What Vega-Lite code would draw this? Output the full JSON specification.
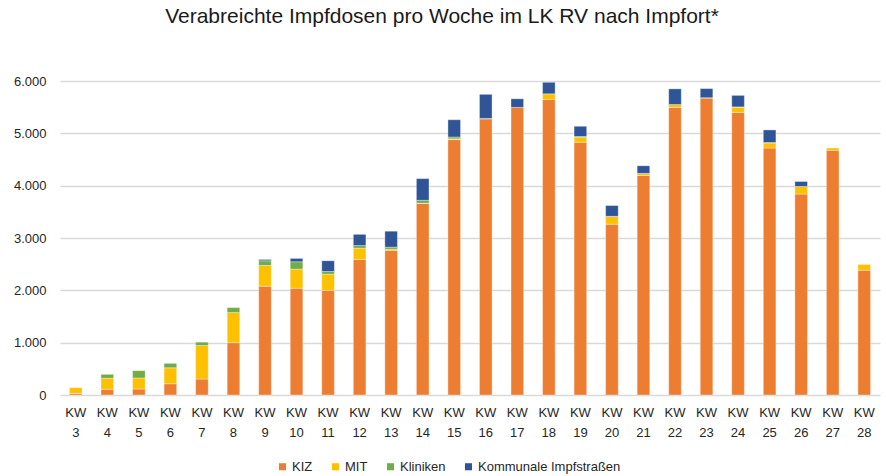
{
  "$schema": "https://vega.github.io/schema/vega-lite/v6.json",
  "autosize": "none",
  "width": 820,
  "height": 314,
  "padding": {"left": 60, "top": 81, "right": 6, "bottom": 81},
  "background": "white",
  "title": {
    "text": "Verabreichte Impfdosen pro Woche im LK RV nach Impfort*",
    "font": "Liberation Sans",
    "fontSize": 21,
    "fontWeight": "normal",
    "color": "#1a1a1a",
    "anchor": "middle",
    "dx": -28,
    "offset": 48
  },
  "data": {
    "values": [
      {"kw": "KW 3", "typ": "KIZ", "o": 1, "n": 30},
      {"kw": "KW 3", "typ": "MIT", "o": 2, "n": 110},
      {"kw": "KW 4", "typ": "KIZ", "o": 1, "n": 110},
      {"kw": "KW 4", "typ": "MIT", "o": 2, "n": 210},
      {"kw": "KW 4", "typ": "Kliniken", "o": 3, "n": 75},
      {"kw": "KW 5", "typ": "KIZ", "o": 1, "n": 115},
      {"kw": "KW 5", "typ": "MIT", "o": 2, "n": 210},
      {"kw": "KW 5", "typ": "Kliniken", "o": 3, "n": 140},
      {"kw": "KW 6", "typ": "KIZ", "o": 1, "n": 215},
      {"kw": "KW 6", "typ": "MIT", "o": 2, "n": 305},
      {"kw": "KW 6", "typ": "Kliniken", "o": 3, "n": 85},
      {"kw": "KW 7", "typ": "KIZ", "o": 1, "n": 305},
      {"kw": "KW 7", "typ": "MIT", "o": 2, "n": 640},
      {"kw": "KW 7", "typ": "Kliniken", "o": 3, "n": 65},
      {"kw": "KW 8", "typ": "KIZ", "o": 1, "n": 1000},
      {"kw": "KW 8", "typ": "MIT", "o": 2, "n": 575},
      {"kw": "KW 8", "typ": "Kliniken", "o": 3, "n": 95},
      {"kw": "KW 9", "typ": "KIZ", "o": 1, "n": 2080},
      {"kw": "KW 9", "typ": "MIT", "o": 2, "n": 395},
      {"kw": "KW 9", "typ": "Kliniken", "o": 3, "n": 90},
      {"kw": "KW 9", "typ": "Kommunale Impfstraßen", "o": 4, "n": 25},
      {"kw": "KW 10", "typ": "KIZ", "o": 1, "n": 2040},
      {"kw": "KW 10", "typ": "MIT", "o": 2, "n": 365},
      {"kw": "KW 10", "typ": "Kliniken", "o": 3, "n": 140},
      {"kw": "KW 10", "typ": "Kommunale Impfstraßen", "o": 4, "n": 65},
      {"kw": "KW 11", "typ": "KIZ", "o": 1, "n": 2000},
      {"kw": "KW 11", "typ": "MIT", "o": 2, "n": 310},
      {"kw": "KW 11", "typ": "Kliniken", "o": 3, "n": 50},
      {"kw": "KW 11", "typ": "Kommunale Impfstraßen", "o": 4, "n": 205},
      {"kw": "KW 12", "typ": "KIZ", "o": 1, "n": 2590},
      {"kw": "KW 12", "typ": "MIT", "o": 2, "n": 215},
      {"kw": "KW 12", "typ": "Kliniken", "o": 3, "n": 50},
      {"kw": "KW 12", "typ": "Kommunale Impfstraßen", "o": 4, "n": 215},
      {"kw": "KW 13", "typ": "KIZ", "o": 1, "n": 2765},
      {"kw": "KW 13", "typ": "MIT", "o": 2, "n": 20},
      {"kw": "KW 13", "typ": "Kliniken", "o": 3, "n": 40},
      {"kw": "KW 13", "typ": "Kommunale Impfstraßen", "o": 4, "n": 305},
      {"kw": "KW 14", "typ": "KIZ", "o": 1, "n": 3660},
      {"kw": "KW 14", "typ": "MIT", "o": 2, "n": 5},
      {"kw": "KW 14", "typ": "Kliniken", "o": 3, "n": 55},
      {"kw": "KW 14", "typ": "Kommunale Impfstraßen", "o": 4, "n": 415},
      {"kw": "KW 15", "typ": "KIZ", "o": 1, "n": 4880},
      {"kw": "KW 15", "typ": "MIT", "o": 2, "n": 15},
      {"kw": "KW 15", "typ": "Kliniken", "o": 3, "n": 35},
      {"kw": "KW 15", "typ": "Kommunale Impfstraßen", "o": 4, "n": 330},
      {"kw": "KW 16", "typ": "KIZ", "o": 1, "n": 5275},
      {"kw": "KW 16", "typ": "Kliniken", "o": 3, "n": 10},
      {"kw": "KW 16", "typ": "Kommunale Impfstraßen", "o": 4, "n": 460},
      {"kw": "KW 17", "typ": "KIZ", "o": 1, "n": 5495},
      {"kw": "KW 17", "typ": "Kommunale Impfstraßen", "o": 4, "n": 165},
      {"kw": "KW 18", "typ": "KIZ", "o": 1, "n": 5645},
      {"kw": "KW 18", "typ": "MIT", "o": 2, "n": 110},
      {"kw": "KW 18", "typ": "Kommunale Impfstraßen", "o": 4, "n": 220},
      {"kw": "KW 19", "typ": "KIZ", "o": 1, "n": 4830},
      {"kw": "KW 19", "typ": "MIT", "o": 2, "n": 95},
      {"kw": "KW 19", "typ": "Kliniken", "o": 3, "n": 15},
      {"kw": "KW 19", "typ": "Kommunale Impfstraßen", "o": 4, "n": 195},
      {"kw": "KW 20", "typ": "KIZ", "o": 1, "n": 3265},
      {"kw": "KW 20", "typ": "MIT", "o": 2, "n": 145},
      {"kw": "KW 20", "typ": "Kliniken", "o": 3, "n": 5},
      {"kw": "KW 20", "typ": "Kommunale Impfstraßen", "o": 4, "n": 205},
      {"kw": "KW 21", "typ": "KIZ", "o": 1, "n": 4195},
      {"kw": "KW 21", "typ": "MIT", "o": 2, "n": 40},
      {"kw": "KW 21", "typ": "Kommunale Impfstraßen", "o": 4, "n": 145},
      {"kw": "KW 22", "typ": "KIZ", "o": 1, "n": 5495},
      {"kw": "KW 22", "typ": "MIT", "o": 2, "n": 55},
      {"kw": "KW 22", "typ": "Kommunale Impfstraßen", "o": 4, "n": 300},
      {"kw": "KW 23", "typ": "KIZ", "o": 1, "n": 5675},
      {"kw": "KW 23", "typ": "MIT", "o": 2, "n": 5},
      {"kw": "KW 23", "typ": "Kommunale Impfstraßen", "o": 4, "n": 175},
      {"kw": "KW 24", "typ": "KIZ", "o": 1, "n": 5400},
      {"kw": "KW 24", "typ": "MIT", "o": 2, "n": 100},
      {"kw": "KW 24", "typ": "Kliniken", "o": 3, "n": 5},
      {"kw": "KW 24", "typ": "Kommunale Impfstraßen", "o": 4, "n": 220},
      {"kw": "KW 25", "typ": "KIZ", "o": 1, "n": 4720},
      {"kw": "KW 25", "typ": "MIT", "o": 2, "n": 95},
      {"kw": "KW 25", "typ": "Kliniken", "o": 3, "n": 10},
      {"kw": "KW 25", "typ": "Kommunale Impfstraßen", "o": 4, "n": 240},
      {"kw": "KW 26", "typ": "KIZ", "o": 1, "n": 3840},
      {"kw": "KW 26", "typ": "MIT", "o": 2, "n": 145},
      {"kw": "KW 26", "typ": "Kommunale Impfstraßen", "o": 4, "n": 95},
      {"kw": "KW 27", "typ": "KIZ", "o": 1, "n": 4675},
      {"kw": "KW 27", "typ": "MIT", "o": 2, "n": 45},
      {"kw": "KW 28", "typ": "KIZ", "o": 1, "n": 2385},
      {"kw": "KW 28", "typ": "MIT", "o": 2, "n": 110}
    ]
  },
  "mark": {"type": "bar", "stroke": "white", "strokeWidth": 0.6, "strokeOpacity": 0.6},
  "encoding": {
    "x": {
      "field": "kw",
      "type": "nominal",
      "sort": null,
      "scale": {"paddingInner": 0.6, "paddingOuter": 0.3},
      "axis": {
        "title": null,
        "labelAngle": 0,
        "labelExpr": "split(datum.label, ' ')",
        "labelFont": "Liberation Sans",
        "labelFontSize": 13,
        "labelColor": "#262626",
        "labelLineHeight": 20,
        "labelPadding": 11,
        "domain": false,
        "ticks": false,
        "grid": false
      }
    },
    "y": {
      "field": "n",
      "type": "quantitative",
      "aggregate": "sum",
      "stack": "zero",
      "scale": {"domain": [0, 6000], "nice": false},
      "axis": {
        "title": null,
        "values": [0, 1000, 2000, 3000, 4000, 5000, 6000],
        "labelExpr": "replace(format(datum.value, ','), ',', '.')",
        "labelFont": "Liberation Sans",
        "labelFontSize": 13,
        "labelColor": "#262626",
        "labelPadding": 14,
        "domain": false,
        "ticks": false,
        "gridColor": "#d9d9d9",
        "gridWidth": 1.5
      }
    },
    "color": {
      "field": "typ",
      "type": "nominal",
      "scale": {
        "domain": ["KIZ", "MIT", "Kliniken", "Kommunale Impfstraßen"],
        "range": ["#ED7D31", "#FFC000", "#70AD47", "#2F5597"]
      },
      "legend": {
        "title": null,
        "orient": "none",
        "legendX": 216,
        "legendY": 379,
        "direction": "horizontal",
        "symbolType": "square",
        "symbolSize": 50,
        "symbolStrokeWidth": 0,
        "labelFont": "Liberation Sans",
        "labelFontSize": 13,
        "labelColor": "#262626",
        "columnPadding": 16,
        "symbolOffset": 0,
        "labelOffset": 3
      }
    },
    "order": {"field": "o", "type": "quantitative", "aggregate": "min"}
  },
  "config": {"view": {"stroke": null}}
}
